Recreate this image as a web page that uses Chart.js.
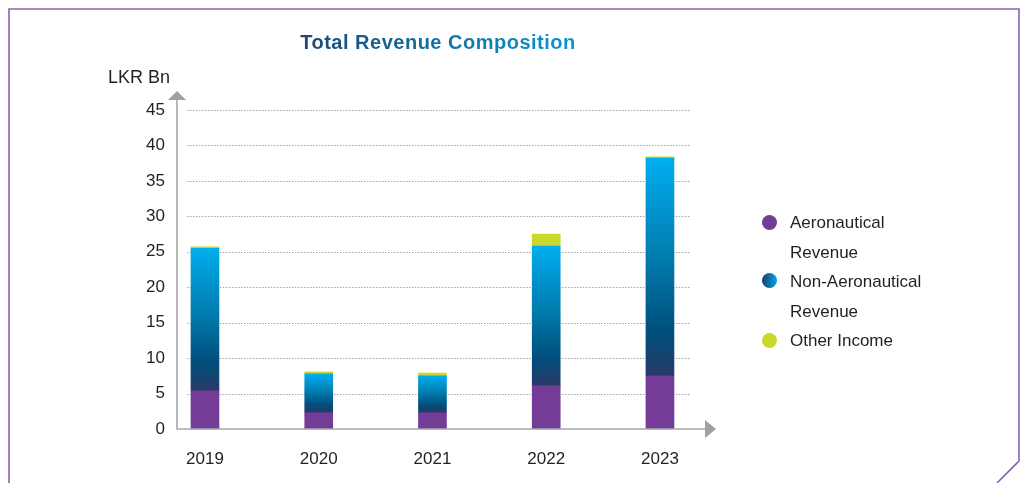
<!DOCTYPE html>
<html>
<head>
<meta charset="utf-8">
<script src="https://cdn.jsdelivr.net/npm/chart.js@4/dist/chart.umd.min.js"></script>
<style>
  body { margin: 0; background: #fff; }
  .wrap { position: relative; width: 1025px; height: 483px; overflow: hidden; font-family: "Liberation Sans", Arial, sans-serif; color: #231f20; }
  #chart { position: absolute; left: 0; top: 0; }
  .frame { position: absolute; left: 0; top: 0; }
  .title {
    position: absolute; left: 238px; top: 30px; width: 400px; text-align: center;
    font-size: 20px; font-weight: bold; letter-spacing: 0.5px; line-height: 24px;
  }
  .title span {
    background: linear-gradient(to right, #1b4877, #0a98cf);
    -webkit-background-clip: text; background-clip: text; color: transparent;
  }
  .unit { position: absolute; left: 108px; top: 66px; font-size: 18px; line-height: 22px; }
  .legend { position: absolute; left: 790px; top: 208px; font-size: 17px; line-height: 29.5px; }
  .dot { position: absolute; width: 15px; height: 15px; border-radius: 50%; }
</style>
</head>
<body>
<div class="wrap">
  <canvas id="chart" width="1025" height="483"></canvas>
  <svg class="frame" width="1025" height="483">
    <polyline points="9,483 9,9 1019,9 1019,461 997,483" fill="none" stroke="#8a62b2" stroke-width="1.6"/>
  </svg>
  <div class="title"><span>Total Revenue Composition</span></div>
  <div class="unit">LKR Bn</div>
  <div class="dot" style="left:762px; top:215px; background:#743c96;"></div>
  <div class="dot" style="left:762px; top:273px; background:linear-gradient(to right, #1b3f6e, #00a8e6);"></div>
  <div class="dot" style="left:762px; top:333px; background:#c8d92b;"></div>
  <div class="legend">Aeronautical<br>Revenue<br>Non-Aeronautical<br>Revenue<br>Other Income</div>
</div>
<script>
const years = ['2019', '2020', '2021', '2022', '2023'];
const aeronautical = [5.4, 2.3, 2.3, 6.1, 7.5];
const nonAeronautical = [20.1, 5.5, 5.2, 19.7, 30.7];
const otherIncome = [0.2, 0.25, 0.4, 1.7, 0.2];
const yMax = 45;
const yStep = 5;

// vertical gradient for each non-aeronautical bar, dark at the base, cyan at the top
const nonAeroFill = (context) => {
    const chart = context.chart;
    const y = chart.scales.y;
    if (context.type !== 'data' || !y) return '#0079ab';
    const i = context.dataIndex;
    const y0 = y.getPixelForValue(aeronautical[i]);
    const y1 = y.getPixelForValue(aeronautical[i] + nonAeronautical[i]);
    if (!isFinite(y0) || !isFinite(y1) || y0 === y1) return '#0079ab';
    const g = chart.ctx.createLinearGradient(0, y0, 0, y1);
    g.addColorStop(0, '#293a68');
    g.addColorStop(0.2, '#004e7b');
    g.addColorStop(0.5, '#0077a8');
    g.addColorStop(1, '#00aeef');
    return g;
};

// dotted grid lines plus the two axis arrows
const axisArrows = {
    id: 'axisArrows',
    beforeDatasetsDraw(chart) {
        const {ctx, chartArea, scales: {y}} = chart;
        ctx.save();
        ctx.strokeStyle = '#a5a5a5';
        ctx.lineWidth = 1;
        ctx.setLineDash([1.5, 1.5]);
        y.ticks.forEach(t => {
            if (t.value === 0) return;
            const py = Math.round(y.getPixelForValue(t.value)) + 0.5;
            ctx.beginPath();
            ctx.moveTo(chartArea.left + 10, py);
            ctx.lineTo(chartArea.right - 15, py);
            ctx.stroke();
        });
        ctx.restore();
    },
    afterDatasetsDraw(chart) {
        const {ctx, chartArea, scales: {y}} = chart;
        const left = chartArea.left, bottom = chartArea.bottom, right = chartArea.right;
        const top = y.getPixelForValue(yMax) - 10;
        ctx.save();
        ctx.strokeStyle = '#a7a7a9';
        ctx.fillStyle = '#a0a0a2';
        ctx.lineWidth = 1.6;
        ctx.beginPath();
        ctx.moveTo(left, top);
        ctx.lineTo(left, bottom);
        ctx.lineTo(right, bottom);
        ctx.stroke();
        ctx.beginPath();
        ctx.moveTo(left - 9, top);
        ctx.lineTo(left + 9, top);
        ctx.lineTo(left, top - 9);
        ctx.closePath();
        ctx.fill();
        ctx.beginPath();
        ctx.moveTo(right, bottom - 9);
        ctx.lineTo(right, bottom + 9);
        ctx.lineTo(right + 11, bottom);
        ctx.closePath();
        ctx.fill();
        ctx.restore();
    }
};

const tickFont = {family: '"Liberation Sans", Arial, sans-serif', size: 17};

new Chart(document.getElementById('chart').getContext('2d'), {
    type: 'bar',
    data: {
        labels: years,
        datasets: [{
            label: 'Aeronautical Revenue',
            data: aeronautical,
            backgroundColor: '#743c96'
        }, {
            label: 'Non-Aeronautical Revenue',
            data: nonAeronautical,
            backgroundColor: nonAeroFill
        }, {
            label: 'Other Income',
            data: otherIncome,
            backgroundColor: '#c8d92b'
        }]
    },
    options: {
        responsive: false,
        animation: false,
        barThickness: 28,
        layout: {padding: {left: 100, top: 110, right: 320, bottom: 4}},
        plugins: {legend: {display: false}, tooltip: {enabled: false}},
        scales: {
            x: {
                type: 'linear',
                stacked: true,
                offset: false,
                min: 2018.754,
                max: 2023.396,
                afterFit: s => { s.height = 50; },
                grid: {display: false, drawTicks: false},
                border: {display: false},
                ticks: {
                    stepSize: 1,
                    includeBounds: false,
                    padding: 20,
                    color: '#231f20',
                    font: tickFont,
                    callback: v => Number.isInteger(v) ? String(v) : ''
                }
            },
            y: {
                stacked: true,
                min: 0,
                max: yMax,
                afterFit: s => { s.width = 77; },
                grid: {display: false, drawTicks: false},
                border: {display: false},
                ticks: {stepSize: yStep, padding: 12, color: '#231f20', font: tickFont}
            }
        }
    },
    plugins: [axisArrows]
});
</script>
</body>
</html>
